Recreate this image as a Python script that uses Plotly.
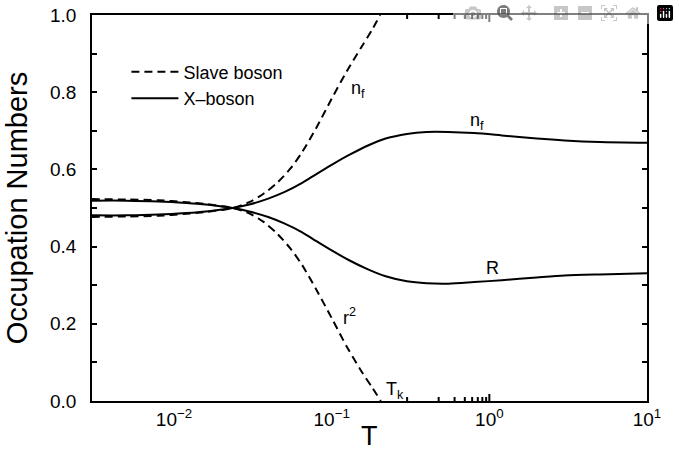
import math
import plotly.graph_objects as go

# Slave boson (dashed)
T_sb_nf = [0.003, 0.005, 0.008, 0.012, 0.016, 0.020, 0.0236, 0.030, 0.037, 0.045, 0.055, 0.065, 0.080, 0.100, 0.125, 0.155, 0.180, 0.203]
sb_nf = [0.477, 0.478, 0.480, 0.485, 0.490, 0.495, 0.500, 0.515, 0.537, 0.565, 0.603, 0.645, 0.708, 0.783, 0.855, 0.918, 0.961, 1.000]
T_sb_r2 = [0.003, 0.005, 0.008, 0.012, 0.016, 0.020, 0.0236, 0.030, 0.037, 0.045, 0.055, 0.065, 0.080, 0.100, 0.125, 0.155, 0.180, 0.205]
sb_r2 = [0.523, 0.522, 0.520, 0.515, 0.510, 0.505, 0.500, 0.486, 0.464, 0.434, 0.394, 0.352, 0.288, 0.215, 0.140, 0.076, 0.036, 0.000]

# X-boson (solid)
T_xb = [0.003, 0.005, 0.008, 0.012, 0.016, 0.020, 0.0236, 0.030, 0.040, 0.050, 0.065, 0.080, 0.100, 0.130, 0.170, 0.220, 0.300, 0.400, 0.550, 0.800, 1.2, 2.0, 3.0, 5.0, 10.0]
xb_nf = [0.481, 0.481, 0.483, 0.487, 0.491, 0.496, 0.500, 0.509, 0.525, 0.541, 0.565, 0.588, 0.612, 0.638, 0.662, 0.680, 0.692, 0.697, 0.697, 0.694, 0.688, 0.680, 0.675, 0.671, 0.669]
xb_R = [0.519, 0.519, 0.517, 0.513, 0.509, 0.504, 0.500, 0.491, 0.476, 0.460, 0.437, 0.414, 0.390, 0.364, 0.341, 0.323, 0.310, 0.305, 0.304, 0.308, 0.313, 0.320, 0.325, 0.328, 0.331]

# Axis ticks
x_major_vals = [0.01, 0.1, 1, 10]
x_major_text = ["10<sup>−2</sup>", "10<sup>−1</sup>", "10<sup>0</sup>", "10<sup>1</sup>"]
x_minor_vals = [m * d for d in [0.001, 0.01, 0.1, 1] for m in range(2, 10)]
y_tick_vals = [0, 0.1, 0.2, 0.3, 0.4, 0.5, 0.6, 0.7, 0.8, 0.9, 1.0]
y_tick_text = ["0.0", "", "0.2", "", "0.4", "", "0.6", "", "0.8", "", "1.0"]

FONT = "Liberation Sans, Arial, Helvetica, sans-serif"
dash = "8px,5px"
X_RANGE = [-2.52, 1.0]

fig = go.Figure()
fig.add_trace(go.Scatter(x=T_sb_nf, y=sb_nf, mode="lines", name="Slave boson",
                         line=dict(color="black", width=2, dash=dash, shape="spline", smoothing=0.8)))
fig.add_trace(go.Scatter(x=T_sb_r2, y=sb_r2, mode="lines", showlegend=False,
                         line=dict(color="black", width=2, dash=dash, shape="spline", smoothing=0.8)))
fig.add_trace(go.Scatter(x=T_xb, y=xb_nf, mode="lines", name="X–boson",
                         line=dict(color="black", width=2, shape="spline", smoothing=0.8)))
fig.add_trace(go.Scatter(x=T_xb, y=xb_R, mode="lines", showlegend=False,
                         line=dict(color="black", width=2, shape="spline", smoothing=0.8)))

labels = [
    ("n<sub>f</sub>", -0.835, 0.806),
    ("n<sub>f</sub>", -0.076, 0.723),
    ("R", 0.019, 0.345),
    ("r<sup>2</sup>", -0.886, 0.218),
    ("T<sub>k</sub>", -0.601, 0.026),
]
for txt, lx, ly in labels:
    fig.add_annotation(x=lx, y=ly, text=txt, showarrow=False,
                       font=dict(family=FONT, size=18, color="black"))

# x-axis title placed just under the tick labels
fig.add_annotation(x=0.5, y=0, xref="paper", yref="paper", xanchor="center", yanchor="top",
                   yshift=-18, text="T", showarrow=False,
                   font=dict(family=FONT, size=27, color="black"))

# inside tick marks on the log T axis (bottom and mirrored top), drawn from the tick value lists
for vals, tlen in ((x_major_vals, 7), (x_minor_vals, 4)):
    for v in vals:
        lv = math.log10(v)
        if lv < X_RANGE[0] or lv > X_RANGE[1]:
            continue
        for anchor, sign in ((0, 1), (1, -1)):
            fig.add_shape(type="line", xref="x", yref="paper", ysizemode="pixel", yanchor=anchor,
                          x0=lv, x1=lv, y0=0, y1=sign * tlen,
                          line=dict(color="black", width=2), layer="above")

fig.update_layout(
    width=679, height=451,
    margin=dict(l=92, r=32, t=15, b=50),
    paper_bgcolor="white", plot_bgcolor="white",
    font=dict(family=FONT, color="black"),
    legend=dict(x=0.062, y=0.9, xanchor="left", yanchor="top",
                bgcolor="rgba(0,0,0,0)", font=dict(family=FONT, size=18),
                tracegroupgap=0, itemwidth=47),
    xaxis=dict(
        type="log", range=X_RANGE, tickvals=x_major_vals, ticktext=x_major_text,
        showgrid=False, zeroline=False, showline=True, linecolor="black", linewidth=1.5,
        mirror=True, ticks="",
        tickfont=dict(family=FONT, size=19), automargin=False,
    ),
    yaxis=dict(
        range=[0, 1.0], tickvals=y_tick_vals, ticktext=y_tick_text,
        showgrid=False, zeroline=False, showline=True, linecolor="black", linewidth=1.5,
        mirror="allticks", ticks="inside", ticklen=5, tickwidth=1.5, tickcolor="black",
        tickfont=dict(family=FONT, size=19), ticklabelstandoff=10, automargin=False,
        title=dict(text="Occupation Numbers", font=dict(family=FONT, size=29), standoff=14),
    ),
)

# remove the page's default 8px body margin so the figure sits at the window's corner
fig.write_html("out.html", post_script="document.body.style.margin='0';")
